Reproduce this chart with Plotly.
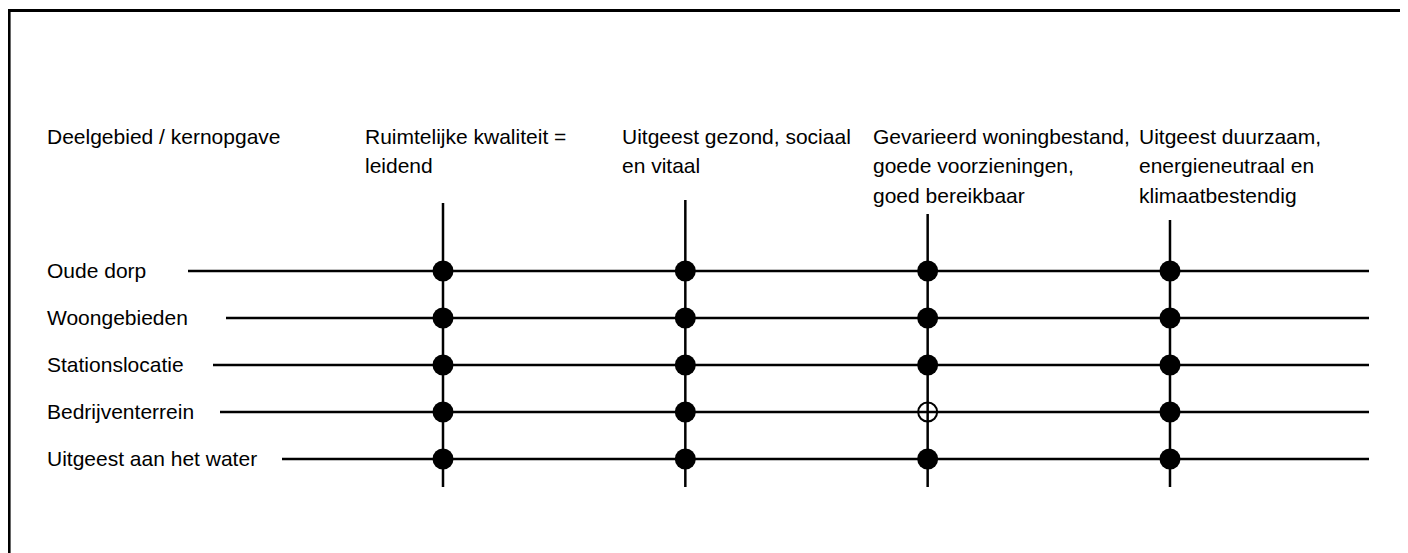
import plotly.graph_objects as go

# ---------------- data ----------------
header_label = "Deelgebied / kernopgave"
rows = ["Oude dorp", "Woongebieden", "Stationslocatie", "Bedrijventerrein", "Uitgeest aan het water"]
columns = [
    "Ruimtelijke kwaliteit =<br>leidend",
    "Uitgeest gezond, sociaal<br>en vitaal",
    "Gevarieerd woningbestand,<br>goede voorzieningen,<br>goed bereikbaar",
    "Uitgeest duurzaam,<br>energieneutraal en<br>klimaatbestendig",
]
# status per row x column: "vol" = filled dot, "open" = open circle
status = [
    ["vol", "vol", "vol", "vol"],
    ["vol", "vol", "vol", "vol"],
    ["vol", "vol", "vol", "vol"],
    ["vol", "vol", "open", "vol"],
    ["vol", "vol", "vol", "vol"],
]

# ---------------- layout constants (screen pixels) ----------------
OFF = 8                       # browser body margin
WIN_W, WIN_H = 1408, 553
W, H = WIN_W - OFF, WIN_H - OFF
COL1_PX, COL_STEP_PX = 443, 242.33
ROW1_PX, ROW_STEP_PX = 271, 47
FONT = "Liberation Sans, Arial, sans-serif"
FS = 21
LINE_GAP = 29.5
LW = 2.5

row_line_start_px = [188, 226, 213, 220, 282]
row_line_end_px = 1369
col_line_top_px = [203, 200, 214, 220]
col_line_bottom_px = 487
col_label_left_px = [363, 620, 871, 1137]
label_left_px = 45
header_first_line_px = 136


def xd(px):
    return (px - COL1_PX) / COL_STEP_PX + 1


def yd(px):
    return (px - ROW1_PX) / ROW_STEP_PX


def xp(px):
    return (px - OFF) / W


def yp(py):
    return 1 - (py - OFF) / H


fig = go.Figure()

col_x = list(range(1, len(columns) + 1))
row_y = list(range(len(rows)))

# horizontal row lines
for j, r in enumerate(rows):
    fig.add_trace(go.Scatter(
        x=[xd(row_line_start_px[j]), xd(row_line_end_px)], y=[row_y[j], row_y[j]],
        mode="lines", line=dict(color="black", width=LW), hoverinfo="skip", showlegend=False))

# vertical column lines
for i, c in enumerate(columns):
    fig.add_trace(go.Scatter(
        x=[col_x[i], col_x[i]], y=[yd(col_line_top_px[i]), yd(col_line_bottom_px)],
        mode="lines", line=dict(color="black", width=LW), hoverinfo="skip", showlegend=False))

# markers
fx, fy, ox, oy = [], [], [], []
for j in range(len(rows)):
    for i in range(len(columns)):
        if status[j][i] == "vol":
            fx.append(col_x[i]); fy.append(row_y[j])
        else:
            ox.append(col_x[i]); oy.append(row_y[j])

fig.add_trace(go.Scatter(x=fx, y=fy, mode="markers",
                         marker=dict(symbol="circle", size=21, color="black", line=dict(width=0)),
                         hoverinfo="skip", showlegend=False))
fig.add_trace(go.Scatter(x=ox, y=oy, mode="markers",
                         marker=dict(symbol="circle-open", size=19, color="black", line=dict(width=2, color="black")),
                         hoverinfo="skip", showlegend=False))

annotations = []
font = dict(family=FONT, size=FS, color="black")
# header
annotations.append(dict(text=header_label, x=xp(label_left_px), xref="paper", xanchor="left",
                        y=yp(header_first_line_px), yref="paper", yanchor="middle", align="left",
                        showarrow=False, font=font))
# column labels, one annotation per text line
for i, c in enumerate(columns):
    for k, part in enumerate(c.split("<br>")):
        annotations.append(dict(text=part, x=xp(col_label_left_px[i]), xref="paper", xanchor="left",
                                y=yp(header_first_line_px + k * LINE_GAP), yref="paper", yanchor="middle",
                                align="left", showarrow=False, font=font))
# row labels
for j, r in enumerate(rows):
    annotations.append(dict(text=r, x=xp(label_left_px), xref="paper", xanchor="left",
                            y=row_y[j], yref="y", yanchor="middle", yshift=1, align="left",
                            showarrow=False, font=font))

# border (top and left visible)
shapes = [
    dict(type="line", xref="paper", yref="paper", x0=xp(9.3), x1=1.0, y0=yp(10.5), y1=yp(10.5),
         line=dict(color="black", width=3)),
    dict(type="line", xref="paper", yref="paper", x0=xp(9.3), x1=xp(9.3), y0=yp(9), y1=0,
         line=dict(color="black", width=2.6)),
]

fig.update_layout(
    width=W, height=H,
    margin=dict(l=0, r=0, t=0, b=0),
    paper_bgcolor="white", plot_bgcolor="white",
    xaxis=dict(range=[xd(OFF), xd(WIN_W)], visible=False, fixedrange=True),
    yaxis=dict(range=[yd(WIN_H), yd(OFF)], visible=False, fixedrange=True),
    annotations=annotations, shapes=shapes,
)

fig.write_html("out.html")
